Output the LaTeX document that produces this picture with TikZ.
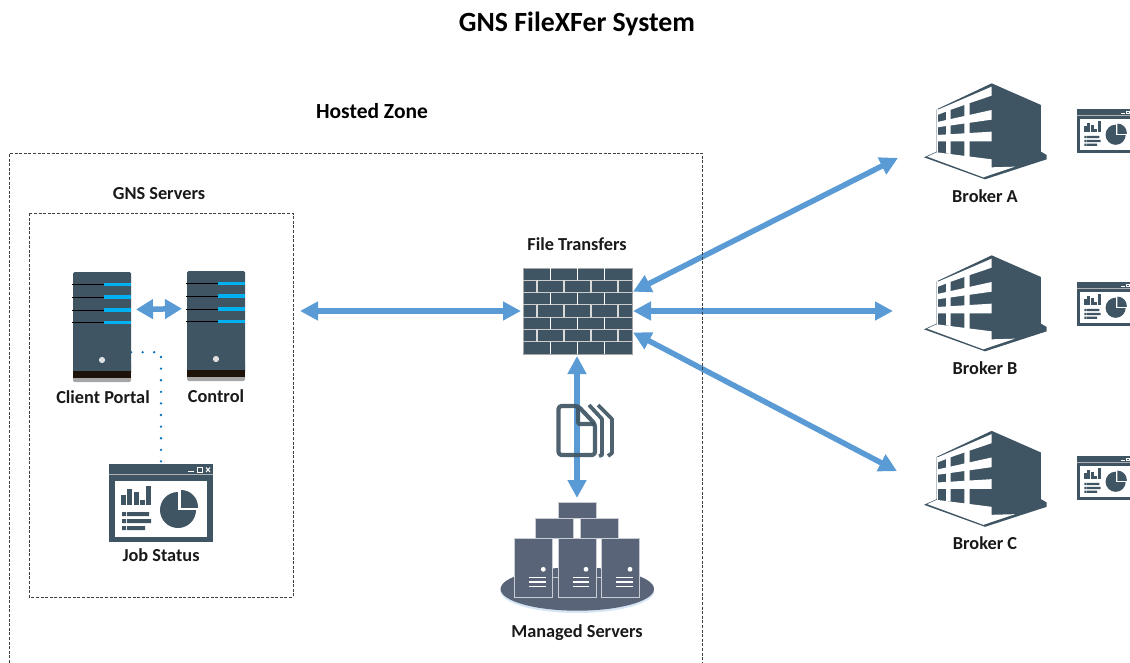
\documentclass[tikz,border=0pt]{standalone}
\usepackage{fontspec}
\setmainfont{Carlito}
\usetikzlibrary{arrows.meta}
\definecolor{dk}{HTML}{3F5564}
\definecolor{arr}{HTML}{5B9BD5}
\definecolor{cy}{HTML}{00B0F0}
\definecolor{srv}{HTML}{5A6478}
\definecolor{edge}{HTML}{C9CCD2}
\definecolor{dotc}{HTML}{0070C0}
\tikzset{
  iconbox/.style={inner sep=0pt,outer sep=0pt,rectangle},
  lbl/.style={inner sep=0pt,font=\bfseries\fontsize{18.3}{20}\selectfont,text=black!90},
  link/.style={draw=arr,line width=5.5pt,{Triangle[length=18pt,width=18pt]}-{Triangle[length=18pt,width=18pt]}},
  frame/.style={draw=black!75,line width=0.7pt,dash pattern=on 3pt off 1.6pt},
  srvbox/.style={fill=srv,draw=edge,line width=0.9pt},
}
\newcommand{\rackicon}[2]{%
\begin{scope}[shift={(#1,#2)}]
  \fill[black!35,rounded corners=1.5pt] (0,90) rectangle (58,110);
  \fill[dk,rounded corners=1.5pt] (0,0) rectangle (58,102);
  \fill[dk] (0,90) rectangle (58,99);
  \fill[black!85!brown] (0,99) rectangle (58,106);
  \foreach \yy in {12.5,25,38,50.5}{
    \draw[black,line width=0.9pt] (-1,\yy) -- (31,\yy);
    \draw[cy,line width=3.4pt] (31,\yy) -- (58,\yy);
  }
  \fill[black!12] (29,88) circle (3.1);
\end{scope}}
\newcommand{\winicon}[3]{%
\begin{scope}[shift={(#1,#2)},scale=#3]
  \fill[dk] (0,0) rectangle (104,78);
  \fill[black!30] (0,10) rectangle (104,11);
  \fill[white] (6,17) rectangle (98,73);
  \fill[white] (79,7) rectangle (85,8);
  \draw[white,line width=0.9pt] (88,3.5) rectangle (93,8);
  \draw[white,line width=1pt] (97,3.5) -- (101,8) (97,8) -- (101,3.5);
  \fill[dk] (12,31) rectangle (17,41);
  \fill[dk] (18,25) rectangle (23,41);
  \fill[dk] (25,28) rectangle (30,41);
  \fill[dk] (31,36) rectangle (36,41);
  \fill[dk] (37,22) rectangle (42,41);
  \fill[dk] (13,48) rectangle (17,52) (18,48) rectangle (40,52);
  \fill[dk] (13,55) rectangle (17,59) (18,55) rectangle (42,59);
  \fill[dk] (13,62) rectangle (17,66) (18,62) rectangle (36,66);
  \fill[dk] (69,46) circle (18);
  \fill[white] (69,26) rectangle (92,46);
  \begin{scope}
    \clip (72,26) rectangle (92,43);
    \fill[dk] (72,43) circle (17);
  \end{scope}
\end{scope}}
\newcommand{\bldicon}[2]{%
\begin{scope}[shift={(#1,#2)},scale=0.3333]
  \fill[dk] (50,118) -- (215,40) -- (363,105) -- (363,245) -- (380,255) -- (380,268) -- (195,328) -- (12,262) -- (50,245) -- cycle;
  \fill[white] (52,120) -- (215,50) -- (215,77) -- (147,100) -- (90,120) -- (52,135) -- cycle;
  \fill[white] (52,156) -- (215,120) -- (215,149) -- (52,172) -- cycle;
  \fill[white] (52,195) -- (215,185) -- (215,214) -- (52,214) -- cycle;
  \fill[white] (78,122) -- (92,118) -- (92,252) -- (78,250) -- cycle;
  \fill[white] (133,102) -- (149,98) -- (149,263) -- (133,261) -- cycle;
  \fill[white] (50,247) -- (215,268) -- (215,292) -- (285,290) -- (190,322) -- (22,260) -- cycle;
  \fill[white] (50,118) -- (53,118) -- (53,250) -- (50,250) -- cycle;
\end{scope}}
\begin{document}
\begin{tikzpicture}[x=1pt,y=-1pt]
\clip (0,0) rectangle (1130,663);
% named places
\node[iconbox,minimum width=58pt,minimum height=110pt] (portal) at (102,327) {};
\node[iconbox,minimum width=58pt,minimum height=110pt] (control) at (216,326) {};
\node[iconbox,minimum width=104pt,minimum height=78pt] (job) at (161,503) {};
\node[iconbox,minimum width=112pt,minimum height=90pt] (fw) at (577,311) {};
\node[iconbox,minimum width=154pt,minimum height=114pt] (managed) at (577,555) {};
\node[iconbox,minimum width=148pt,minimum height=96pt] (brokerA) at (972,131) {};
\node[iconbox,minimum width=154pt,minimum height=112pt] (brokerB) at (970,311) {};
\node[iconbox,minimum width=150pt,minimum height=96pt] (brokerC) at (972,479) {};
\coordinate (gnsport) at (300,311);
% connectors
\draw[link] (gnsport) -- (fw.west);
\draw[link] (fw.19.6) -- (brokerA.200.7);
\draw[link] (fw.east) -- (brokerB.west);
\draw[link] (fw.-21.4) -- (brokerC.174.7);
\draw[link] (fw.south) -- (managed.north);
\draw[draw=arr,line width=5.5pt,{Triangle[length=17pt,width=19pt]}-{Triangle[length=17pt,width=19pt]},shorten <=5pt,shorten >=5pt] (portal.31.8) -- (control.149.6);
\draw[draw=dotc,line width=2.6pt,line cap=round,dash pattern=on 0pt off 11.6pt] (portal.-41.9) -| (job.north);
% frames
\draw[frame] (9.5,663) -- (9.5,153) -- (702,153) -- (702,663);
\draw[frame] (29,213) rectangle (293,597);
% servers
\rackicon{73}{272}
\rackicon{187}{271}
\winicon{109}{464}{1}
% firewall
\fill[dk] (523,268) rectangle (632,354);
\draw[black!35,line width=0.8pt] (523,268) rectangle (632,354);
\foreach \yy in {280.3,292.6,304.9,317.1,329.4,341.7}
  \draw[white!80!black,line width=1pt] (523,\yy) -- (632,\yy);
\foreach \xx in {550,577,604}
  \foreach \yy in {268,292.6,317.1,341.7}
    \draw[white,line width=1pt] (\xx,\yy) -- (\xx,\yy+12.3);
\foreach \xx in {537,564,591,618}
  \foreach \yy in {280.3,304.9,329.4}
    \draw[white!85!black,line width=1.2pt] (\xx,\yy) -- (\xx,\yy+12.3);
% file icon
\begin{scope}[draw=dk,line width=4.2pt,line join=round,opacity=0.92]
  \draw[rounded corners=3pt] (558.5,406) -- (578,406) -- (595,424) -- (595,455) -- (558.5,455) -- cycle;
  \draw[rounded corners=2pt] (578,408) -- (578,424) -- (595,424);
  \draw[line width=3.8pt] (589,405) -- (602,419) -- (602,455) -- (599,456);
  \draw[line width=3.8pt] (598,405) -- (612,419) -- (612,453) -- (608,456);
\end{scope}
% managed servers
\fill[arr!25] (577.3,591) ellipse (77 and 22);
\fill[srv] (577.3,589) ellipse (76.7 and 21.7);
\draw[srvbox] (558,502.3) rectangle (596,518.5);
\draw[srvbox] (535.7,518.5) rectangle (573.3,538.3);
\draw[srvbox] (580.7,518.5) rectangle (618.3,538.3);
\draw[edge,line width=0.9pt] (552,577.5) -- (558,577.5) (596,577.5) -- (601.7,577.5);
\foreach \xx/\dd in {514.3/543.3,558/586,601.7/630}{
  \draw[srvbox] (\xx,538.3) rectangle (\xx+38,597.3);
  \fill[white] (\dd,569.3) circle (2.4);
  \draw[white,line width=1.2pt] (\xx+14.7,577.3) -- ++(16.5,0) (\xx+14.7,582) -- ++(16.5,0) (\xx+14.7,586.7) -- ++(16.5,0);
}
% brokers
\bldicon{920}{70}
\bldicon{920}{242}
\bldicon{920}{417.5}
\winicon{1077}{109}{0.56}
\winicon{1077}{282}{0.56}
\winicon{1077}{456}{0.56}
% text
\node[inner sep=0pt,font=\bfseries\fontsize{27.8}{30}\selectfont] (title) at (577,24) {GNS FileXFer System};
\node[inner sep=0pt,font=\bfseries\fontsize{21.5}{24}\selectfont] (hosted) at (372,111) {Hosted Zone};
\node[lbl] (lgns) at (159,194) {GNS Servers};
\node[lbl] (lfile) at (577,244) {File Transfers};
\node[lbl] (lportal) at (103,397) {Client Portal};
\node[lbl] (lcontrol) at (216,396) {Control};
\node[lbl] (ljob) at (161,555) {Job Status};
\node[lbl] (lmanaged) at (577,633) {Managed Servers};
\node[lbl] (la) at (985,196) {Broker A};
\node[lbl] (lb) at (985,368) {Broker B};
\node[lbl] (lc) at (985,543) {Broker C};
\end{tikzpicture}
\end{document}
